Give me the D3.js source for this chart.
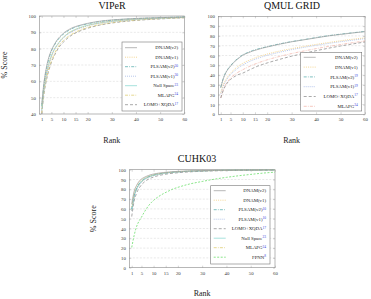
<!DOCTYPE html>
<html><head><meta charset="utf-8">
<script src="https://cdn.jsdelivr.net/npm/d3@7"></script>
<style>body{margin:0;background:#fff}svg{display:block}text{font-family:"Liberation Serif","Times New Roman",Times,serif !important}</style>
</head><body><svg id="c" width="371" height="299"></svg>
<script>
const ranks = [1,2,3,4,5,6,7,8,9,10,12,14,16,18,20,25,30,35,40,45,50,55,60];
const xTicks = [1,5,10,15,20,30,40,50,60];

const viperTicks = [40,50,60,70,80,90,100];
const viperNames = ["DNAM(v2)","DNAM(v1)","PLSAM(v2)","PLSAM(v1)","Null Space","MLAPG","LOMO+XQDA"];
const viperRefs  = ["","","30","30","23","24","17"];
const viperDNAMv2 = [46,60,69,75,79,82,84.5,86.5,88,89.5,91.5,93,94,94.8,95.5,96.8,97.6,98.1,98.5,98.8,99,99.2,99.4];
const viperDNAMv1 = [43,56,65,71,75.5,79,81.5,83.5,85.5,87,89.5,91,92.3,93.3,94.2,95.8,96.8,97.5,98,98.4,98.7,99,99.2];
const viperPLSAMv2 = [45,59,68,74,78.5,81.5,84,86,87.5,89,91,92.6,93.7,94.5,95.2,96.6,97.4,98,98.4,98.7,99,99.2,99.4];
const viperPLSAMv1 = [42,55,64,70,75,78.5,81,83,85,86.5,89,90.7,92,93,94,95.6,96.6,97.3,97.9,98.3,98.6,98.9,99.1];
const viperNull = [42.3,56,65,71,75.5,79,81.5,83.5,85.5,87,89.5,91.2,92.5,93.5,94.3,95.8,96.8,97.5,98,98.4,98.7,99,99.2];
const viperMLAPG = [40.7,54,62,68,72.5,76,79,81.5,83.5,85,87.5,89.3,90.8,92,93,94.8,96,96.9,97.5,98,98.4,98.7,99];
const viperLOMO = [40,53,61,67,71.5,75,78,80.5,82.5,84,86.8,88.8,90.3,91.5,92.5,94.4,95.7,96.6,97.3,97.8,98.2,98.6,98.9];

const gridTicks = [0,10,20,30,40,50,60,70,80,90,100];
const gridNames = ["DNAM(v2)","DNAM(v1)","PLSAM(v2)","PLSAM(v1)","LOMO+XQDA","MLAPG"];
const gridRefs  = ["","","19","19","17","24"];
const gridDNAMv2 = [27,36,42,46,49,52,54.5,56.5,58.5,60.3,62.5,64.5,66,67.5,68.7,71.5,74,76,78,80,81.5,83,84.3];
const gridDNAMv1 = [22,30,35,39,42,44.5,46.8,48.8,50.5,52,54.5,56.5,58.5,60,61.5,64.5,67,69.2,71.3,73.2,75,76.6,78];
const gridPLSAMv2 = [27.5,36.5,42.5,46.5,49.5,52.5,55,57,59,60.7,63,65,66.5,67.8,69,71.8,74.2,76.2,78.3,80.2,81.8,83.2,84.6];
const gridPLSAMv1 = [21,28.5,33.5,37.5,40.5,43,45,47,48.8,50.3,53,55.2,57,58.7,60.2,63.3,66,68.3,70.4,72.3,74.1,75.7,77.2];
const gridLOMO = [16.6,24,29.5,33,35.5,37.5,39,40.3,41.2,42,44.5,46.8,49,50.8,52.4,56,59.3,62.2,64.9,67.4,69.7,71.8,73.8];
const gridMLAPG = [16.6,25,30.5,34,37,39.2,41,42.8,44.2,45.5,48,50.3,52.2,54,55.6,59,62,64.6,67,69.2,71.2,73.1,74.8];

const cuhkTicks = [0,10,20,30,40,50,60,70,80,90,100];
const cuhkNames = ["DNAM(v2)","DNAM(v1)","PLSAM(v2)","PLSAM(v1)","LOMO+XQDA","Null Space","MLAPG","FPNN"];
const cuhkRefs  = ["","","10","10","17","23","24","8"];
const cuhkDNAMv2 = [65,78,84,88,90.5,92,93.2,94.2,95,95.6,96.5,97.1,97.6,98,98.3,98.8,99.1,99.3,99.5,99.6,99.7,99.8,99.9];
const cuhkDNAMv1 = [62,76,83,87,89.5,91.2,92.5,93.5,94.3,95,96,96.7,97.2,97.6,98,98.6,99,99.2,99.4,99.5,99.6,99.7,99.8];
const cuhkPLSAMv2 = [60,74,81,85.5,88.5,90.5,92,93,93.8,94.5,95.6,96.4,97,97.5,97.9,98.5,98.9,99.2,99.4,99.5,99.6,99.7,99.8];
const cuhkPLSAMv1 = [58,72,79.5,84,87,89.3,91,92.2,93.1,94,95.2,96,96.7,97.2,97.6,98.3,98.8,99.1,99.3,99.5,99.6,99.7,99.8];
const cuhkLOMO = [52.2,68,76,81,84.5,87,89,90.5,91.6,92.5,94,95,95.8,96.4,96.9,97.8,98.4,98.8,99.1,99.3,99.5,99.6,99.7];
const cuhkNull = [58.9,73,80.5,85,88,90,91.5,92.8,93.7,94.5,95.6,96.4,97,97.4,97.8,98.5,98.9,99.2,99.4,99.5,99.6,99.7,99.8];
const cuhkMLAPG = [58,72.5,80,84.5,87.5,89.7,91.2,92.5,93.4,94.2,95.4,96.2,96.8,97.3,97.7,98.4,98.8,99.1,99.3,99.5,99.6,99.7,99.8];
const cuhkFPNN = [20.7,33,42,47.5,51.5,56,60,63.5,66.3,68.7,72.5,75.5,78,80.3,82,85.5,88,90.3,92.2,93.8,95.2,96.5,97.5];

const styles = {
  "DNAM(v2)":  {c:"#a0a0a0", d:null},
  "DNAM(v1)":  {c:"#f1c970", d:"1,1.2"},
  "PLSAM(v2)": {c:"#56acac", d:"3,1.2,0.8,1.2"},
  "PLSAM(v1)": {c:"#9fb4e6", d:"1,1"},
  "Null Space":{c:"#8ad8d2", d:null},
  "MLAPG":     {c:"#ddcb6c", d:"3,1.2,0.8,1.2"},
  "LOMO+XQDA": {c:"#8c8c8c", d:"3,2"},
  "FPNN":      {c:"#62dc62", d:"2,1.5"}
};

const FONT = '"Liberation Serif","Times New Roman",Times,serif';
const svg = d3.select("#c");

function panel(o){
  const g = svg.append("g");
  const x = d3.scaleLinear().domain([0,60]).range([o.x0,o.x1]);
  const y = d3.scaleLinear().domain([o.ticks[0],o.ticks[o.ticks.length-1]]).range([o.y1,o.y0]);
  g.append("g").selectAll("line").data(o.ticks.slice(1,-1)).join("line")
    .attr("x1",o.x0).attr("x2",o.x1).attr("y1",d=>y(d)).attr("y2",d=>y(d))
    .attr("stroke","#d2d2d2").attr("stroke-width",0.5).attr("stroke-dasharray","2,1.5");
  const ax = g.append("g").attr("transform",`translate(0,${o.y1})`)
    .call(d3.axisBottom(x).tickValues(xTicks).tickSize(-2).tickPadding(3.5));
  const axT = g.append("g").attr("transform",`translate(0,${o.y0})`)
    .call(d3.axisTop(x).tickValues(xTicks).tickSize(-2).tickFormat(""));
  const ay = g.append("g").attr("transform",`translate(${o.x0},0)`)
    .call(d3.axisLeft(y).tickValues(o.ticks).tickSize(-2).tickPadding(3.5));
  const ayR = g.append("g").attr("transform",`translate(${o.x1},0)`)
    .call(d3.axisRight(y).tickValues(o.ticks).tickSize(-2).tickFormat(""));
  [ax,axT,ay,ayR].forEach(a=>{
    a.attr("font-family",FONT);
    a.select(".domain").remove();
    a.selectAll("line").attr("stroke","#999").attr("stroke-width",0.4);
    a.selectAll("text").attr("font-size",4.8).attr("fill","#333");
  });
  g.append("rect").attr("x",o.x0).attr("y",o.y0).attr("width",o.x1-o.x0).attr("height",o.y1-o.y0)
    .attr("fill","none").attr("stroke","#888").attr("stroke-width",0.6);
  const line = d3.line().x((d,i)=>x(ranks[i])).y(d=>y(d)).curve(d3.curveMonotoneX);
  const sers = o.names.map((n,i)=>({n, v:o.series[i]}));
  g.append("g").selectAll("path").data(sers.slice().reverse()).join("path")
    .attr("d",d=>line(d.v)).attr("fill","none")
    .attr("stroke",d=>(o.col&&o.col[d.n])||styles[d.n].c).attr("stroke-width",0.75)
    .attr("stroke-dasharray",d=>styles[d.n].d);
  g.append("text").attr("x",o.tx).attr("y",o.ty).attr("text-anchor","middle").attr("font-size",10)
    .attr("font-family",FONT).attr("fill","#111").text(o.title);
  g.append("text").attr("x",(o.x0+o.x1)/2).attr("y",o.ry).attr("text-anchor","middle").attr("font-size",8)
    .attr("font-family",FONT).attr("fill","#222").text("Rank");
  if(o.sx!=null){
    g.append("text").attr("transform",`translate(${o.sx},${(o.y0+o.y1)/2}) rotate(-90)`).attr("text-anchor","middle")
      .attr("font-size",8).attr("font-family",FONT).attr("fill","#222").text("% Score");
  }
  const L = o.leg;
  g.append("rect").attr("x",L.x).attr("y",L.y).attr("width",L.w).attr("height",L.h)
    .attr("fill","#fff").attr("stroke","#777").attr("stroke-width",0.6);
  sers.forEach((s,i)=>{
    const yy = L.y + L.first + i*L.step;
    g.append("line").attr("x1",L.x+3).attr("x2",L.x+15).attr("y1",yy).attr("y2",yy)
      .attr("stroke",(o.col&&o.col[s.n])||styles[s.n].c).attr("stroke-width",0.75).attr("stroke-dasharray",styles[s.n].d);
    const t = g.append("text").attr("x",L.x+L.w-4).attr("y",yy+1.6).attr("text-anchor","end")
      .attr("font-size",4.8).attr("font-family",FONT).attr("fill","#222");
    t.append("tspan").text(s.n);
    if(o.refs[i]) t.append("tspan").attr("dy",-1.8).attr("font-size",3.5).attr("fill","#3344dd").text(o.refs[i]);
  });
}

panel({title:"VIPeR", tx:112, ty:9, ry:143, sx:7, x0:39.3, x1:184.3, y0:16, y1:114, ticks:viperTicks,
  names:viperNames, refs:viperRefs,
  series:[viperDNAMv2,viperDNAMv1,viperPLSAMv2,viperPLSAMv1,viperNull,viperMLAPG,viperLOMO],
  leg:{x:122, y:42, w:60, h:69, first:5.7, step:9.5}});

panel({title:"QMUL GRID", tx:292, ty:8.5, ry:143, sx:null, x0:218.3, x1:365, y0:16.3, y1:114.3, ticks:gridTicks,
  names:gridNames, refs:gridRefs, col:{"MLAPG":"#f2b4aa"},
  series:[gridDNAMv2,gridDNAMv1,gridPLSAMv2,gridPLSAMv1,gridLOMO,gridMLAPG],
  leg:{x:300.7, y:52.3, w:61, h:58.7, first:5, step:9.8}});

panel({title:"CUHK03", tx:197, ty:162, ry:296, sx:96, x0:129.3, x1:275, y0:169.7, y1:267.7, ticks:cuhkTicks,
  names:cuhkNames, refs:cuhkRefs,
  series:[cuhkDNAMv2,cuhkDNAMv1,cuhkPLSAMv2,cuhkPLSAMv1,cuhkLOMO,cuhkNull,cuhkMLAPG,cuhkFPNN],
  leg:{x:210.7, y:185.7, w:59.3, h:78.3, first:5, step:9.5}});
</script></body></html>
